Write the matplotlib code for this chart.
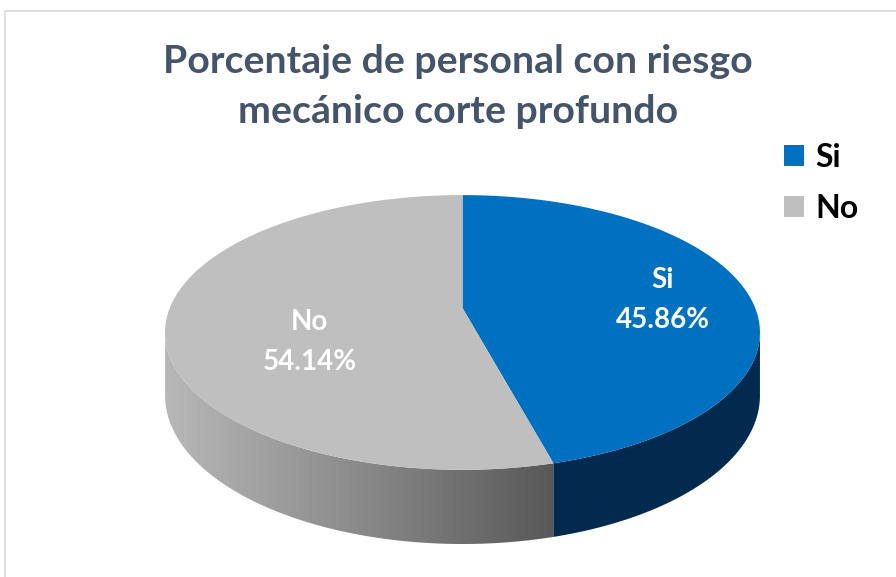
import matplotlib.pyplot as plt
import numpy as np
from matplotlib.patches import Polygon, Patch
from matplotlib.colors import LinearSegmentedColormap

plt.rcParams['font.family'] = ['Lato', 'DejaVu Sans']

# data
categories = ["Si", "No"]
values = [45.86, 54.14]
top_colors = ["#0070c0", "#bfbfbf"]
title_lines = ["Porcentaje de personal con riesgo", "mecánico corte profundo"]

# pie layout in pixels (perspective ellipse)
cx, cy = 462.5, 308
A, B, K = 292.7, 133, 0.178
DEPTH = 61


def proj(phi, r=1.0, drop=0.0):
    # phi in degrees, clockwise from 12 o'clock
    t = np.radians(phi)
    u = r * np.sin(t)
    v = r * np.cos(t)
    w = 1 + K * v
    return cx + A * u / w, cy - B * v / w + drop / w


def arc(a0, a1, drop=0.0, n=200):
    phis = np.linspace(a0, a1, n)
    x, y = proj(phis, 1.0, drop)
    return np.column_stack([x, y])


fig = plt.figure(figsize=(8.96, 5.77), dpi=100)
ax = fig.add_axes([0, 0, 1, 1])
ax.set_xlim(0, 896)
ax.set_ylim(577, 0)
ax.axis('off')

# chart border
ax.plot([5, 5], [11, 580], color="#d9d9d9", lw=1.2)
ax.plot([5, 900], [11, 11], color="#d9d9d9", lw=1.2)

angles = np.concatenate([[0], np.cumsum(values) / np.sum(values) * 360])

# visible side range (silhouette)
side_lo = np.degrees(np.arccos(-K))
side_hi = 360 - side_lo

grey_cmap = LinearSegmentedColormap.from_list("g", ["#b8b8b8", "#8a8a8a", "#585858"])

for i, cat in enumerate(categories):
    a0, a1 = angles[i], angles[i + 1]
    s0, s1 = max(a0, side_lo), min(a1, side_hi)
    if s1 > s0:
        pts = np.vstack([arc(s0, s1), arc(s0, s1, DEPTH)[::-1]])
        if cat == "No":
            poly = Polygon(pts, closed=True, facecolor="none", edgecolor="none")
            ax.add_patch(poly)
            x0, x1 = pts[:, 0].min(), pts[:, 0].max()
            y0, y1 = pts[:, 1].min(), pts[:, 1].max()
            grad = np.linspace(0, 1, 256).reshape(1, -1)
            im = ax.imshow(grad, cmap=grey_cmap, extent=[x0, x1, y1, y0],
                           aspect='auto', interpolation='bilinear')
            im.set_clip_path(poly)
        else:
            ax.add_patch(Polygon(pts, closed=True, facecolor="#012a4e",
                                 edgecolor="none"))

for i, cat in enumerate(categories):
    a0, a1 = angles[i], angles[i + 1]
    pts = np.vstack([[cx, cy], arc(a0, a1)])
    ax.add_patch(Polygon(pts, closed=True, facecolor=top_colors[i],
                         edgecolor="none", zorder=3))

ax.set_xlim(0, 896)
ax.set_ylim(577, 0)

# data labels
label_r = [0.70, 0.52]
label_dy = [3, 24]
for i, cat in enumerate(categories):
    mid = (angles[i] + angles[i + 1]) / 2
    lx, ly = proj(mid, label_r[i])
    ly = ly + label_dy[i]
    ax.text(lx, ly - 11, cat, color="white", fontsize=20, fontweight="bold",
            ha="center", va="baseline", zorder=5)
    ax.text(lx, ly + 29, f"{values[i]:.2f}%", color="white", fontsize=20,
            fontweight="bold", ha="center", va="baseline", zorder=5)

# title
ax.text(458, 73, title_lines[0], color="#44546a", fontsize=28.3,
        fontweight="bold", ha="center", va="baseline")
ax.text(458, 123, title_lines[1], color="#44546a", fontsize=28.3,
        fontweight="bold", ha="center", va="baseline")

# legend
handles = [Patch(facecolor=c, edgecolor="none") for c in top_colors]
ax.legend(handles, categories, loc="upper left",
          bbox_to_anchor=(784 / 896, 1 - 143 / 577), frameon=False,
          prop={"size": 23, "weight": "bold"}, handlelength=0.62,
          handleheight=0.62, handletextpad=0.35, labelspacing=0.68,
          borderpad=0, borderaxespad=0)

fig.savefig("out.png", dpi=100)
